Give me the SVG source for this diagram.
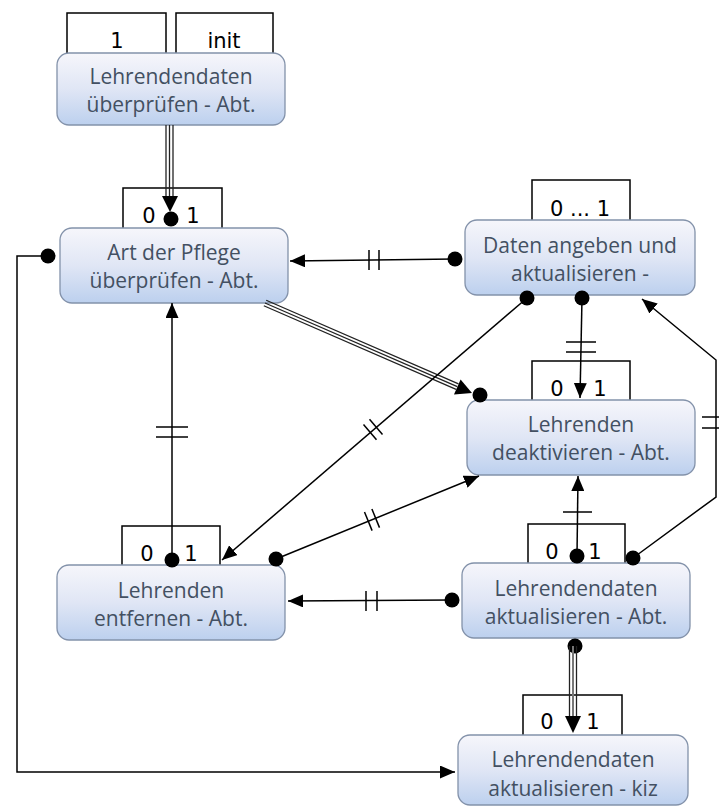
<svg xmlns="http://www.w3.org/2000/svg" width="719" height="808" viewBox="0 0 719 808">
<defs>
<linearGradient id="boxg" x1="0" y1="0" x2="0" y2="1">
<stop offset="0" stop-color="#f6f6fb"/>
<stop offset="0.5" stop-color="#e0e6f5"/>
<stop offset="1" stop-color="#bcd0ee"/>
</linearGradient>
<marker id="arrow" viewBox="0 0 15 13" refX="15" refY="6.5" markerWidth="15" markerHeight="13" orient="auto" markerUnits="userSpaceOnUse"><path d="M0,0 L15,6.5 L0,13 Z" fill="#000"/></marker>
<marker id="dot" viewBox="0 0 16 16" refX="8" refY="8" markerWidth="16" markerHeight="16" markerUnits="userSpaceOnUse"><circle cx="8" cy="8" r="7.5" fill="#000"/></marker>
<style>
.tab{fill:#fff;stroke:#000;stroke-width:1.5}
.box{fill:url(#boxg);stroke:#8392aa;stroke-width:1.3}
.txt{font-family:"Open Sans","Noto Sans",sans-serif;font-size:21px;fill:#435062;text-anchor:middle}
.lbl{font-family:"DejaVu Sans",sans-serif;font-size:21px;fill:#000;text-anchor:middle}
.c{stroke:#000;stroke-width:1.5;fill:none}
.t{stroke:#000;stroke-width:1.5}
.tr{stroke:#222;stroke-width:1.3;fill:none}
.dotc{fill:#000}
</style>
</defs>
<rect width="719" height="808" fill="#fff"/>

<g id="node1">
<rect class="tab" x="67" y="13" width="99" height="45"/>
<rect class="tab" x="176" y="13" width="97" height="45"/>
<text class="lbl" x="117" y="48">1</text>
<text class="lbl" x="224" y="48">init</text>
<rect class="box" x="57" y="53" width="228" height="72" rx="12"/>
<text class="txt" x="171" y="84">Lehrendendaten</text>
<text class="txt" x="171" y="112">überprüfen - Abt.</text>
</g>

<g id="node2">
<rect class="tab" x="123" y="188" width="99" height="45"/>
<text class="lbl" x="149" y="223">0</text>
<text class="lbl" x="193" y="223">1</text>
<rect class="box" x="60" y="228" width="228" height="75" rx="12"/>
<text class="txt" x="174" y="260">Art der Pflege</text>
<text class="txt" x="174" y="288">überprüfen - Abt.</text>
</g>

<g id="node3">
<rect class="tab" x="532" y="180" width="98" height="45"/>
<text class="lbl" x="580" y="216">0 ... 1</text>
<rect class="box" x="465" y="220" width="230" height="75" rx="12"/>
<text class="txt" x="580" y="253">Daten angeben und</text>
<text class="txt" x="580" y="281">aktualisieren -</text>
</g>

<g id="node4">
<rect class="tab" x="532" y="361" width="98" height="45"/>
<text class="lbl" x="557" y="396">0</text>
<text class="lbl" x="600" y="396">1</text>
<rect class="box" x="467" y="400" width="228" height="75" rx="12"/>
<text class="txt" x="581" y="432">Lehrenden</text>
<text class="txt" x="581" y="460">deaktivieren - Abt.</text>
</g>

<g id="node5">
<rect class="tab" x="122" y="526" width="98" height="45"/>
<text class="lbl" x="147" y="561">0</text>
<text class="lbl" x="191" y="561">1</text>
<rect class="box" x="57" y="565" width="228" height="75" rx="12"/>
<text class="txt" x="171" y="598">Lehrenden</text>
<text class="txt" x="171" y="626">entfernen - Abt.</text>
</g>

<g id="node6">
<rect class="tab" x="528" y="524" width="97" height="45"/>
<text class="lbl" x="552" y="559">0</text>
<text class="lbl" x="595" y="559">1</text>
<rect class="box" x="462" y="563" width="228" height="75" rx="12"/>
<text class="txt" x="576" y="596">Lehrendendaten</text>
<text class="txt" x="576" y="624">aktualisieren - Abt.</text>
</g>

<g id="node7">
<rect class="tab" x="523" y="695" width="99" height="45"/>
<text class="lbl" x="547" y="729">0</text>
<text class="lbl" x="593" y="729">1</text>
<rect class="box" x="458" y="735" width="230" height="70" rx="12"/>
<text class="txt" x="573" y="767">Lehrendendaten</text>
<text class="txt" x="573" y="796">aktualisieren - kiz</text>
</g>

<g id="connectors">
<!-- node1 -> node2 triple -->
<line class="tr" x1="166" y1="125" x2="166" y2="198"/>
<line class="tr" x1="169.5" y1="125" x2="169.5" y2="198"/>
<line class="tr" x1="173" y1="125" x2="173" y2="198"/>
<path d="M162,196 L178,196 L170,212 Z" fill="#000"/>
<circle class="dotc" cx="171" cy="219" r="7.5"/>

<!-- node3 -> node2 -->
<line class="c" x1="455" y1="259" x2="290" y2="261" marker-start="url(#dot)" marker-end="url(#arrow)"/>
<line class="t" x1="369" y1="250" x2="369" y2="270"/>
<line class="t" x1="379" y1="250" x2="379" y2="270"/>

<!-- node5 -> node2 -->
<line class="c" x1="172" y1="560" x2="172" y2="303" marker-start="url(#dot)" marker-end="url(#arrow)"/>
<line class="t" x1="156" y1="427" x2="188" y2="427"/>
<line class="t" x1="156" y1="437" x2="188" y2="437"/>

<!-- node2 -> node4 triple -->
<line class="tr" x1="263.8" y1="305.75" x2="456.1" y2="389.35"/>
<line class="tr" x1="265" y1="303" x2="457.3" y2="386.6"/>
<line class="tr" x1="266.2" y1="300.25" x2="458.5" y2="383.85"/>
<path d="M454,394.5 L460.6,379.5 L472,393 Z" fill="#000"/>
<circle class="dotc" cx="480" cy="395" r="7.5"/>

<!-- node3 -> node5 -->
<line class="c" x1="527" y1="298" x2="222" y2="560" marker-start="url(#dot)" marker-end="url(#arrow)"/>
<line class="t" x1="369.5" y1="419.3" x2="382.5" y2="434.5"/>
<line class="t" x1="363.5" y1="424.5" x2="376.5" y2="439.7"/>

<!-- node5 -> node4 -->
<line class="c" x1="276" y1="559" x2="479" y2="476" marker-start="url(#dot)" marker-end="url(#arrow)"/>
<line class="t" x1="364.5" y1="512" x2="372.1" y2="530.6"/>
<line class="t" x1="371.9" y1="509" x2="379.5" y2="527.6"/>

<!-- node3 -> node4 -->
<line class="c" x1="582" y1="298" x2="580" y2="398" marker-start="url(#dot)" marker-end="url(#arrow)"/>
<line class="t" x1="566" y1="342" x2="596" y2="342"/>
<line class="t" x1="566" y1="352" x2="596" y2="352"/>

<!-- node6 -> node4 -->
<line class="c" x1="577" y1="556" x2="578" y2="476" marker-start="url(#dot)" marker-end="url(#arrow)"/>
<line class="t" x1="563" y1="512" x2="592" y2="512"/>

<!-- node6 -> node3 -->
<polyline class="c" points="633,558 716,497 716,360 642,299" marker-start="url(#dot)" marker-end="url(#arrow)"/>
<line class="t" x1="702" y1="417" x2="719" y2="417"/>
<line class="t" x1="702" y1="428" x2="719" y2="428"/>

<!-- node6 -> node5 -->
<line class="c" x1="452" y1="600" x2="288" y2="601" marker-start="url(#dot)" marker-end="url(#arrow)"/>
<line class="t" x1="366" y1="591" x2="366" y2="611"/>
<line class="t" x1="377" y1="591" x2="377" y2="611"/>

<!-- node6 -> node7 triple -->
<circle class="dotc" cx="575" cy="646" r="7.5"/>
<line class="tr" x1="569.5" y1="646" x2="569.5" y2="718"/>
<line x1="573" y1="646" x2="573" y2="718" stroke="#777" stroke-width="2"/>
<line class="tr" x1="576.5" y1="646" x2="576.5" y2="718"/>
<path d="M565,716 L581,716 L573,733 Z" fill="#000"/>

<!-- node2 -> node7 -->
<polyline class="c" points="48,256 17,256 17,772 455,772" marker-start="url(#dot)" marker-end="url(#arrow)"/>
</g>
</svg>
